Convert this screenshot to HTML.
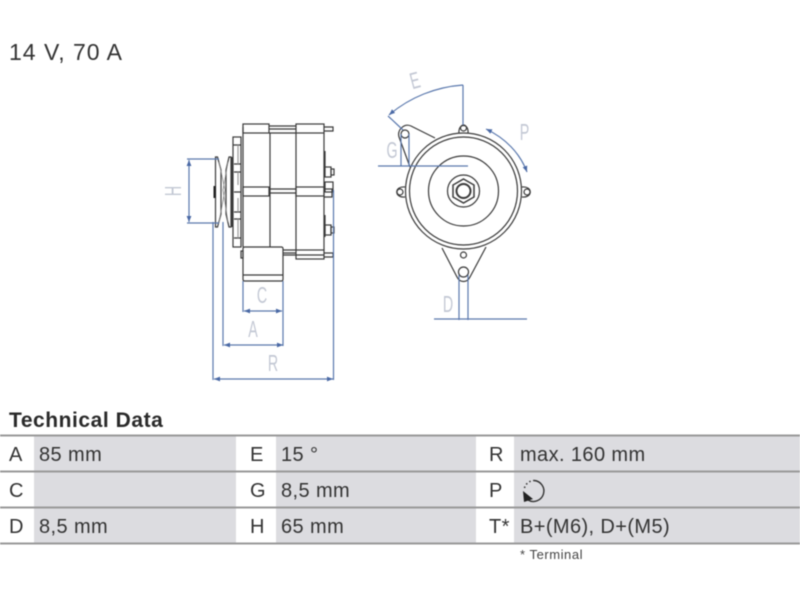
<!DOCTYPE html>
<html><head><meta charset="utf-8"><style>
html,body{margin:0;padding:0;background:#fff}
svg{display:block}
text{font-family:"Liberation Sans",sans-serif}
.b{fill:none;stroke:#3a3a3a;stroke-width:1.200}
.d{fill:none;stroke:#5a78ad;stroke-width:1.200}
.l{fill:#c3c8d4;font-size:23px}
.t{fill:#333;font-size:20px;letter-spacing:.4px}
.r{fill:#999;height:2px}
.s{filter:blur(.45px)}
</style></head><body>
<svg width="800" height="600" viewBox="0 0 800 600" xmlns="http://www.w3.org/2000/svg">
<defs>
<marker id="a" markerWidth="6" markerHeight="5" refX="5" refY="2.500" orient="auto-start-reverse"><path d="M0 .5L5 2.500L0 4.500z" fill="#4a69a5"/></marker>
</defs>
<rect width="800" height="600" fill="#fff"/>
<g class="s">
<text x="9" y="60" font-size="23" letter-spacing="1" fill="#333">14 V, 70 A</text>

<!-- side view -->
<g class="b">
<path d="M243 127V247M324 133V250M270 133V247M296 133V250"/>
<rect x="243" y="124" width="26" height="9"/><rect x="296" y="124" width="28" height="9"/>
<path d="M269 126H296M269 129H296M269 133H296M324 127H333V131H324"/>
<rect x="243" y="187" width="26" height="9"/><rect x="296" y="187" width="28" height="9"/>
<path d="M269 189H296M269 193H296M324 189H332V197H324"/>
<rect x="233" y="137" width="8" height="110"/>
<path d="M233 145H241M234 164H241M234 172H241M234 192H241M234 212H241M234 219H241M234 238H241"/>
<path d="M238 145V164M238 172V185M238 198V212M238 219V238" stroke="#999"/>
<path d="M215.500 157H217.500L221 170V214L217.500 227H215.500ZM231 157H229L226 170V214L229 227H231Z"/>
<path d="M219 162L225 190L219 222M228 162L223 190L228 222" stroke="#888" stroke-width=".8"/>
<path d="M232 157V227"/>
<rect x="243" y="247" width="40" height="34" rx="1.500"/><path d="M243 275H283"/>
<path d="M283 250H296M283 253H296M283 255H296"/>
<rect x="296" y="250" width="28" height="9"/><path d="M296 255H324M324 253H333V257H324"/>
<path d="M241 251H243V258H241Z"/>
<path d="M325 151V167M325 215V237"/>
<rect x="325" y="167" width="6" height="10"/><rect x="331" y="169" width="3" height="6"/>
<rect x="325" y="225" width="6" height="10"/><rect x="331" y="227" width="3" height="6"/>
<rect x="325" y="182" width="8" height="10"/>
</g>
<rect x="213.500" y="186" width="2.500" height="12" fill="#222"/>
<g class="d">
<path d="M187 159H219M187 223H219"/>
<path d="M189 160V222" marker-start="url(#a)" marker-end="url(#a)"/>
<path d="M213 222V380M223 222V346M333.500 190V380M283 281V346M243 281V312"/>
<path d="M244 311H282" marker-start="url(#a)" marker-end="url(#a)"/>
<path d="M224 345H283" marker-start="url(#a)" marker-end="url(#a)"/>
<path d="M214 379H333" marker-start="url(#a)" marker-end="url(#a)"/>
</g>
<text class="l" transform="translate(181,191) rotate(-90) scale(.62,1)" text-anchor="middle">H</text>
<text class="l" transform="translate(262,303) scale(.62,1)" text-anchor="middle">C</text>
<text class="l" transform="translate(253,337) scale(.62,1)" text-anchor="middle">A</text>
<text class="l" transform="translate(273,371) scale(.62,1)" text-anchor="middle">R</text>

<!-- front view -->
<g class="b">
<circle cx="463.500" cy="191" r="58"/><circle cx="463.500" cy="191" r="54"/>
<circle cx="463.500" cy="191" r="35"/><circle cx="463.500" cy="191" r="16"/>
<path d="M463.500 179L474 185V197L463.500 203L453 197V185Z" stroke-width="1.500"/>
<circle cx="463.500" cy="191" r="7" stroke-width="2"/>
<circle cx="463.500" cy="128" r="3"/><path d="M459 133C458 123 469 123 468 133"/>
<circle cx="400" cy="192" r="3"/><path d="M405 187C394 186 394 198 405 197"/>
<circle cx="527" cy="192" r="3"/><path d="M522 187C533 186 533 198 522 197"/>
<circle cx="405" cy="134" r="4"/>
<path d="M435 138L411 126C404 123 397 130 399 137L410 167"/>
<path d="M442 248L457 277C460 283 467 283 470 277L486 247"/>
<circle cx="463.500" cy="272" r="5"/><circle cx="463.500" cy="255" r="3"/>
</g>
<g class="d">
<path d="M463 85V125M401 134V166M409 134V166M378 166H468"/>
<path d="M389 115C410 97 436 87 463 85" marker-start="url(#a)"/>
<path d="M388 116L403 130"/>
<path d="M486 129C505 138 520 153 527 172" marker-start="url(#a)" marker-end="url(#a)"/>
<path d="M459 275V320M468 275V320M434 319H527"/>
</g>
<text class="l" transform="translate(417,88) rotate(-15) scale(.62,1)" text-anchor="middle">E</text>
<text class="l" transform="translate(524.500,140) scale(.62,1)" text-anchor="middle">P</text>
<text class="l" transform="translate(392,158) scale(.62,1)" text-anchor="middle">G</text>
<text class="l" transform="translate(448,312) scale(.62,1)" text-anchor="middle">D</text>

<!-- table -->
<text x="9" y="427" font-size="21" font-weight="700" fill="#2a2a2a" letter-spacing=".55">Technical Data</text>
<rect x="34" y="435" width="202" height="108" fill="#dcdce0"/>
<rect x="276" y="435" width="200" height="108" fill="#dcdce0"/>
<rect x="514" y="435" width="286" height="108" fill="#dcdce0"/>
<rect class="r" x="0" y="434.500" width="800"/><rect class="r" x="0" y="470.500" width="800"/>
<rect class="r" x="0" y="506.500" width="800"/><rect class="r" x="0" y="542.500" width="800"/>
<text class="t" x="9" y="461">A</text><text class="t" x="39" y="461">85 mm</text>
<text class="t" x="9" y="497">C</text>
<text class="t" x="9" y="533">D</text><text class="t" x="39" y="533">8,5 mm</text>
<text class="t" x="250" y="461">E</text><text class="t" x="281" y="461">15 °</text>
<text class="t" x="250" y="497">G</text><text class="t" x="281" y="497">8,5 mm</text>
<text class="t" x="250" y="533">H</text><text class="t" x="281" y="533">65 mm</text>
<text class="t" x="489" y="461">R</text><text class="t" x="520" y="461">max. 160 mm</text>
<text class="t" x="489" y="497">P</text>
<text class="t" x="489" y="533">T*</text><text class="t" x="520" y="533">B+(M6), D+(M5)</text>
<path d="M524.500 488A10 10 0 0 1 534 480.500" fill="none" stroke="#333" stroke-width="1.500" stroke-dasharray="1.500 2.500"/>
<path d="M534 480.500A10.500 10.500 0 1 1 528 500" fill="none" stroke="#333" stroke-width="1.400"/>
<path d="M523 491L533 499L524 502Z" fill="#222"/>
<text x="520" y="559" font-size="13" letter-spacing=".55" fill="#444">* Terminal</text>
</g>
</svg>
</body></html>
